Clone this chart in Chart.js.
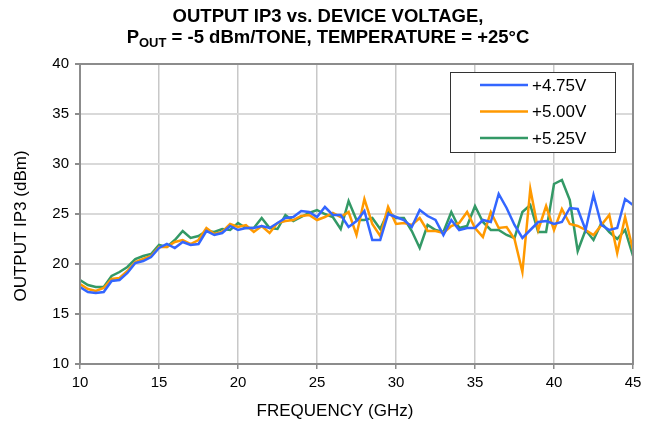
<!DOCTYPE html>
<html>
<head>
<meta charset="utf-8">
<script src="https://cdn.jsdelivr.net/npm/chart.js@4.4.0/dist/chart.umd.min.js"></script>
<style>
  html, body { margin: 0; padding: 0; background: #fff; }
  #wrap { width: 653px; height: 429px; }
</style>
</head>
<body>
<div id="wrap"><canvas id="ip3Chart" width="653" height="429"></canvas></div>
<script>
// Frequency points (GHz)
const freqGHz = [
  10, 10.5, 11, 11.5, 12, 12.5, 13, 13.5, 14, 14.5,
  15, 15.5, 16, 16.5, 17, 17.5, 18, 18.5, 19, 19.5,
  20, 20.5, 21, 21.5, 22, 22.5, 23, 23.5, 24, 24.5,
  25, 25.5, 26, 26.5, 27, 27.5, 28, 28.5, 29, 29.5,
  30, 30.5, 31, 31.5, 32, 32.5, 33, 33.5, 34, 34.5,
  35, 35.5, 36, 36.5, 37, 37.5, 38, 38.5, 39, 39.5,
  40, 40.5, 41, 41.5, 42, 42.5, 43, 43.5, 44, 44.5, 45
]

// Output IP3 (dBm) per supply voltage
const ip3At475 = [
  17.7, 17.2, 17.1, 17.2, 18.3, 18.4, 19.1, 20.1, 20.3, 20.7,
  21.6, 22.0, 21.6, 22.2, 21.9, 22.0, 23.3, 22.9, 23.1, 23.8,
  23.4, 23.6, 23.6, 23.8, 23.6, 24.1, 24.6, 24.7, 25.3, 25.2,
  24.7, 25.7, 24.9, 24.9, 23.7, 24.3, 25.3, 22.4, 22.4, 25.0,
  24.7, 24.4, 23.7, 25.4, 24.8, 24.4, 22.9, 24.4, 23.4, 23.6,
  23.6, 24.4, 24.2, 27.0, 25.6, 23.9, 22.6, 23.4, 24.2, 24.3,
  24.0, 24.2, 25.6, 25.5, 23.4, 26.9, 23.9, 23.4, 23.6, 26.5, 25.9
]
const ip3At500 = [
  18.0, 17.5, 17.3, 17.6, 18.5, 18.6, 19.3, 20.2, 20.5, 20.8,
  21.7, 21.7, 22.2, 22.4, 22.0, 22.4, 23.6, 23.0, 23.2, 24.0,
  23.7, 23.9, 23.2, 23.8, 23.1, 24.1, 24.3, 24.4, 24.8, 24.9,
  24.4, 24.7, 25.1, 24.7, 25.2, 22.9, 26.5, 24.0, 22.8, 25.7,
  24.0, 24.1, 23.9, 24.6, 23.3, 23.3, 23.1, 23.8, 24.1, 25.2,
  23.6, 22.7, 25.2, 23.6, 23.7, 22.5, 19.2, 27.5, 23.4, 25.8,
  23.4, 25.5, 24.0, 23.8, 23.4, 22.9, 23.9, 24.9, 21.1, 24.7, 21.4
]
const ip3At525 = [
  18.4, 17.9, 17.7, 17.7, 18.8, 19.2, 19.7, 20.5, 20.8, 21.0,
  21.9, 21.7, 22.4, 23.3, 22.6, 22.8, 23.3, 23.2, 23.5, 23.4,
  24.1, 23.6, 23.6, 24.6, 23.6, 23.5, 24.9, 24.3, 24.7, 25.1,
  25.4, 25.0, 24.7, 23.5, 26.3, 24.4, 24.4, 24.6, 23.5, 25.2,
  24.6, 24.6, 23.3, 21.6, 23.9, 23.4, 23.2, 25.2, 23.6, 23.8,
  25.8, 24.2, 23.4, 23.4, 22.9, 22.6, 25.2, 25.9, 23.2, 23.2,
  28.0, 28.4, 26.4, 21.3, 23.4, 22.4, 24.1, 23.2, 22.5, 23.4, 20.8
]

const seriesLabels = ['+4.75V', '+5.00V', '+5.25V']
const seriesColors = ['#3366ff', '#ff9900', '#339966']

const FONT = "'Liberation Sans', Arial, sans-serif"

function toPoints(values) {
  return freqGHz.map((f, i) => ({ x: f, y: values[i] }))
}

// plot frame (top / right edges) + axis titles + chart title
const framePlugin = {
  id: 'frame',
  afterDraw(chart) {
    const { ctx, chartArea: a } = chart
    ctx.save()
    ctx.strokeStyle = '#8c8c8c'
    ctx.lineWidth = 2
    ctx.strokeRect(a.left, a.top, a.right - a.left, a.bottom - a.top)

    ctx.fillStyle = '#000'
    ctx.textBaseline = 'middle'
    ctx.textAlign = 'center'
    ctx.font = '17px ' + FONT
    ctx.fillText('FREQUENCY (GHz)', 335, 411)

    ctx.save()
    ctx.translate(21, 226)
    ctx.rotate(-Math.PI / 2)
    ctx.fillText('OUTPUT IP3 (dBm)', 0, 0)
    ctx.restore()

    // title, 2 lines, second one with subscript
    ctx.font = 'bold 18.5px ' + FONT
    ctx.fillText('OUTPUT IP3 vs. DEVICE VOLTAGE,', 328, 17)

    const partA = 'P'
    const partSub = 'OUT'
    const partB = ' = -5 dBm/TONE, TEMPERATURE = +25°C'
    const wA = ctx.measureText(partA).width
    const wB = ctx.measureText(partB).width
    ctx.font = 'bold 13px ' + FONT
    const wSub = ctx.measureText(partSub).width
    let x = 328 - (wA + wSub + wB) / 2
    ctx.textAlign = 'left'
    ctx.font = 'bold 18.5px ' + FONT
    ctx.fillText(partA, x, 38)
    x += wA
    ctx.font = 'bold 13px ' + FONT
    ctx.fillText(partSub, x, 43)
    x += wSub
    ctx.font = 'bold 18.5px ' + FONT
    ctx.fillText(partB, x, 38)
    ctx.restore()
  }
}

// legend box inside the plot
const legendBoxPlugin = {
  id: 'legendBox',
  afterDraw(chart) {
    const { ctx } = chart
    ctx.save()
    ctx.fillStyle = '#fff'
    ctx.fillRect(450, 72, 165, 80)
    ctx.strokeStyle = '#333'
    ctx.lineWidth = 1
    ctx.strokeRect(450.5, 72.5, 165, 80)
    ctx.font = '17px ' + FONT
    ctx.textBaseline = 'middle'
    ctx.textAlign = 'left'
    chart.data.datasets.forEach((ds, i) => {
      const y = 85 + i * 26.5
      ctx.strokeStyle = ds.borderColor
      ctx.lineWidth = 2.5
      ctx.beginPath()
      ctx.moveTo(480, y)
      ctx.lineTo(528, y)
      ctx.stroke()
      ctx.fillStyle = '#000'
      ctx.fillText(ds.label, 532, y + 1)
    })
    ctx.restore()
  }
}

new Chart(document.getElementById('ip3Chart'), {
  type: 'line',
  data: {
    datasets: [ip3At475, ip3At500, ip3At525].map((vals, i) => ({
      label: seriesLabels[i],
      data: toPoints(vals),
      borderColor: seriesColors[i],
      backgroundColor: seriesColors[i],
      borderWidth: 2.5,
      pointRadius: 0,
      tension: 0,
      fill: false
    }))
  },
  options: {
    responsive: false,
    animation: false,
    layout: { padding: { top: 64, right: 20, bottom: 0, left: 0 } },
    plugins: {
      legend: { display: false },
      title: { display: false },
      tooltip: { enabled: false }
    },
    scales: {
      x: {
        type: 'linear',
        min: 10,
        max: 45,
        afterFit: (s) => { s.height = 65 },
        ticks: {
          stepSize: 5,
          color: '#000',
          padding: 5,
          maxRotation: 0,
          font: { family: FONT, size: 15 }
        },
        grid: {
          color: '#c8c8c8',
          lineWidth: 1.5,
          tickColor: '#8c8c8c',
          tickLength: 5
        },
        border: { color: '#8c8c8c', width: 2 }
      },
      y: {
        min: 10,
        max: 40,
        afterFit: (s) => { s.width = 80 },
        ticks: {
          stepSize: 5,
          color: '#000',
          padding: 6,
          font: { family: FONT, size: 15 }
        },
        grid: {
          color: '#d9d9d9',
          lineWidth: 2,
          tickColor: '#8c8c8c',
          tickLength: 5
        },
        border: { color: '#8c8c8c', width: 2 }
      }
    }
  },
  plugins: [framePlugin, legendBoxPlugin]
})
</script>
</body>
</html>
